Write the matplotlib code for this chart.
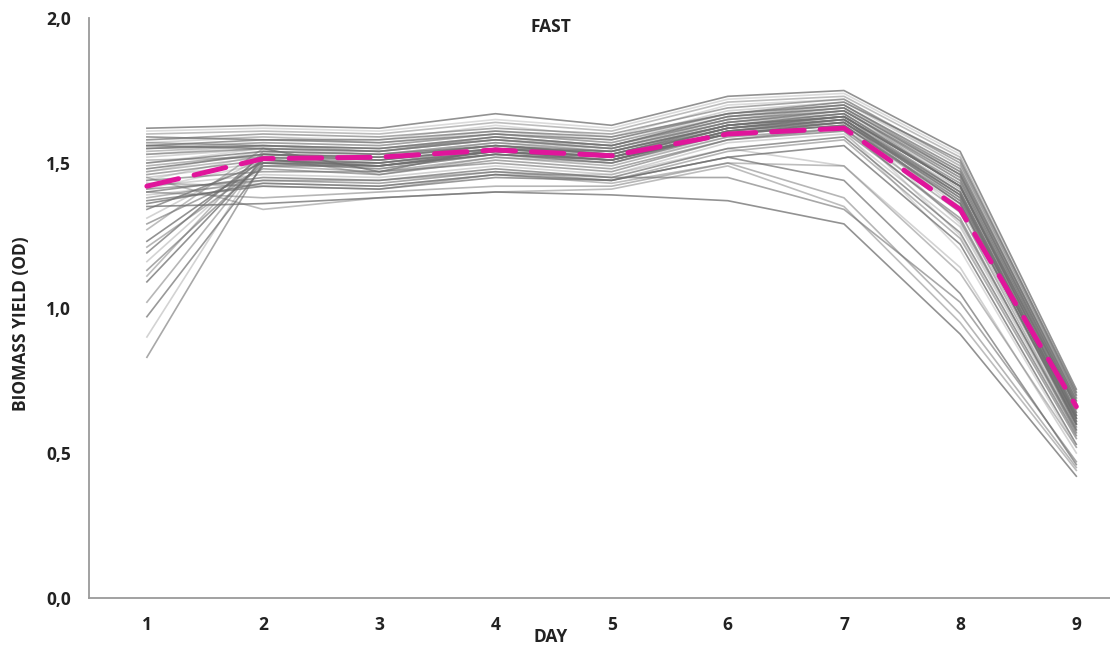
import matplotlib
matplotlib.use("Agg")
import matplotlib.pyplot as plt

days = [1, 2, 3, 4, 5, 6, 7, 8, 9]
day_labels = ["1", "2", "3", "4", "5", "6", "7", "8", "9"]
y_ticks = [0.0, 0.5, 1.0, 1.5, 2.0]
y_tick_labels = ["0,0", "0,5", "1,0", "1,5", "2,0"]

mean_yield = [1.42, 1.515, 1.52, 1.545, 1.525, 1.60, 1.62, 1.34, 0.66]

# individual replicate curves (biomass OD per day)
main_bundle = [
    [1.62, 1.63, 1.62, 1.67, 1.63, 1.73, 1.75, 1.54, 0.72],
    [1.60, 1.61, 1.60, 1.64, 1.61, 1.71, 1.73, 1.52, 0.70],
    [1.58, 1.60, 1.59, 1.62, 1.60, 1.69, 1.72, 1.50, 0.70],
    [1.57, 1.59, 1.57, 1.61, 1.58, 1.68, 1.71, 1.49, 0.69],
    [1.56, 1.58, 1.57, 1.60, 1.58, 1.67, 1.70, 1.48, 0.68],
    [1.55, 1.57, 1.56, 1.60, 1.57, 1.66, 1.70, 1.47, 0.68],
    [1.55, 1.56, 1.55, 1.59, 1.56, 1.66, 1.69, 1.46, 0.67],
    [1.54, 1.56, 1.55, 1.58, 1.56, 1.65, 1.68, 1.45, 0.66],
    [1.53, 1.55, 1.54, 1.58, 1.55, 1.64, 1.68, 1.44, 0.66],
    [1.52, 1.55, 1.53, 1.57, 1.55, 1.64, 1.67, 1.43, 0.65],
    [1.50, 1.54, 1.53, 1.56, 1.54, 1.63, 1.66, 1.42, 0.64],
    [1.49, 1.53, 1.52, 1.56, 1.53, 1.62, 1.66, 1.40, 0.63],
    [1.48, 1.53, 1.51, 1.55, 1.52, 1.62, 1.65, 1.39, 0.62],
    [1.47, 1.52, 1.50, 1.54, 1.52, 1.61, 1.65, 1.38, 0.61],
    [1.46, 1.51, 1.49, 1.53, 1.51, 1.60, 1.64, 1.36, 0.60],
    [1.45, 1.50, 1.48, 1.53, 1.50, 1.60, 1.63, 1.35, 0.59],
    [1.59, 1.58, 1.58, 1.61, 1.59, 1.67, 1.71, 1.51, 0.71],
    [1.57, 1.56, 1.54, 1.59, 1.56, 1.65, 1.69, 1.47, 0.69],
    [1.56, 1.55, 1.47, 1.55, 1.54, 1.63, 1.67, 1.42, 0.66],
    [1.51, 1.52, 1.46, 1.52, 1.50, 1.61, 1.65, 1.37, 0.62],
]
light_bundle = [
    [1.61, 1.62, 1.61, 1.65, 1.62, 1.72, 1.74, 1.53, 0.71],
    [1.58, 1.59, 1.58, 1.63, 1.59, 1.70, 1.72, 1.49, 0.69],
    [1.56, 1.57, 1.56, 1.60, 1.57, 1.67, 1.70, 1.46, 0.67],
    [1.53, 1.56, 1.55, 1.59, 1.56, 1.66, 1.69, 1.41, 0.64],
    [1.50, 1.55, 1.54, 1.58, 1.55, 1.64, 1.67, 1.33, 0.61],
    [1.47, 1.54, 1.52, 1.57, 1.54, 1.63, 1.66, 1.29, 0.58],
    [1.44, 1.53, 1.51, 1.56, 1.53, 1.62, 1.64, 1.25, 0.55],
    [1.41, 1.50, 1.49, 1.53, 1.50, 1.59, 1.61, 1.20, 0.52],
]
lower_group = [
    [1.44, 1.47, 1.47, 1.50, 1.47, 1.58, 1.62, 1.30, 0.58],
    [1.42, 1.46, 1.45, 1.49, 1.46, 1.57, 1.60, 1.28, 0.57],
    [1.40, 1.45, 1.44, 1.48, 1.45, 1.55, 1.59, 1.26, 0.56],
    [1.38, 1.44, 1.44, 1.47, 1.44, 1.54, 1.58, 1.24, 0.55],
    [1.36, 1.43, 1.42, 1.46, 1.44, 1.52, 1.56, 1.22, 0.53],
    [1.43, 1.42, 1.41, 1.46, 1.43, 1.50, 1.49, 1.12, 0.52],
]
early_decline = [
    [1.41, 1.44, 1.43, 1.47, 1.45, 1.45, 1.34, 1.02, 0.47],
    [1.39, 1.43, 1.42, 1.46, 1.46, 1.55, 1.49, 1.14, 0.50],
    [1.37, 1.42, 1.41, 1.45, 1.44, 1.52, 1.44, 1.05, 0.46],
    [1.40, 1.38, 1.40, 1.42, 1.42, 1.50, 1.38, 0.98, 0.45],
    [1.35, 1.36, 1.38, 1.40, 1.39, 1.37, 1.29, 0.91, 0.42],
    [1.45, 1.34, 1.38, 1.40, 1.41, 1.49, 1.35, 0.95, 0.44],
]
low_start = [
    [0.83, 1.50, 1.50, 1.55, 1.52, 1.62, 1.66, 1.42, 0.63],
    [0.90, 1.53, 1.52, 1.56, 1.53, 1.63, 1.67, 1.44, 0.64],
    [0.97, 1.49, 1.49, 1.54, 1.51, 1.61, 1.65, 1.40, 0.62],
    [1.02, 1.52, 1.51, 1.55, 1.53, 1.62, 1.66, 1.43, 0.65],
    [1.09, 1.51, 1.50, 1.54, 1.52, 1.60, 1.64, 1.39, 0.60],
    [1.11, 1.54, 1.53, 1.57, 1.54, 1.64, 1.68, 1.45, 0.66],
    [1.13, 1.50, 1.48, 1.53, 1.50, 1.60, 1.63, 1.37, 0.59],
    [1.16, 1.52, 1.50, 1.54, 1.51, 1.61, 1.64, 1.40, 0.61],
    [1.19, 1.53, 1.52, 1.56, 1.53, 1.63, 1.66, 1.42, 0.63],
    [1.21, 1.49, 1.47, 1.52, 1.49, 1.59, 1.62, 1.33, 0.58],
    [1.23, 1.51, 1.49, 1.53, 1.51, 1.60, 1.63, 1.36, 0.60],
    [1.27, 1.55, 1.54, 1.58, 1.55, 1.65, 1.68, 1.46, 0.67],
    [1.29, 1.48, 1.46, 1.51, 1.48, 1.58, 1.61, 1.31, 0.57],
    [1.31, 1.52, 1.51, 1.55, 1.52, 1.62, 1.65, 1.41, 0.62],
    [1.34, 1.50, 1.49, 1.54, 1.51, 1.61, 1.64, 1.38, 0.61],
]

FONT = ["Open Sans", "DejaVu Sans"]

fig = plt.figure(figsize=(11.10, 6.48), dpi=100)
ax = fig.add_axes([0.080, 0.0772, 0.92, 0.8950])

alphas = [0.75, 0.45, 0.6, 0.3, 0.7, 0.5]
k = 0
for g in [main_bundle, lower_group, early_decline, low_start]:
    for series in g:
        ax.plot(days, series, color="#6e6e6e", lw=1.2,
                alpha=alphas[k % len(alphas)], zorder=2)
        k += 1
for series in light_bundle:
    ax.plot(days, series, color="#9a9a9a", lw=1.2, alpha=0.35, zorder=1)

ax.plot(days, mean_yield, color="#E0159B", lw=3.6, dashes=(6.5, 3.2),
        dash_capstyle="round", zorder=5)

ax.set_xlim(0.5, 9.29)
ax.set_ylim(0, 2.0)
ax.set_xticks(days)
ax.set_xticklabels(day_labels)
ax.set_yticks(y_ticks)
ax.set_yticklabels(y_tick_labels)
ax.tick_params(axis="both", length=0, labelsize=12.5)
ax.tick_params(axis="y", pad=13)
ax.tick_params(axis="x", pad=13)
for lab in ax.get_xticklabels() + ax.get_yticklabels():
    lab.set_fontweight("bold")
    lab.set_family(FONT)
    lab.set_color("#222222")

for s in ["top", "right"]:
    ax.spines[s].set_visible(False)
for s in ["left", "bottom"]:
    ax.spines[s].set_color("#9a9a9a")
    ax.spines[s].set_linewidth(1.3)

fig.text(0.0185, 0.5, "BIOMASS YIELD (OD)", rotation=90, va="center", ha="center",
         fontsize=12.5, fontweight="bold", family=FONT, color="#222222")
fig.text(0.496, 0.017, "DAY", ha="center", va="center",
         fontsize=12.5, fontweight="bold", family=FONT, color="#222222")
fig.text(0.496, 0.958, "FAST", ha="center", va="center",
         fontsize=12.5, fontweight="bold", family=FONT, color="#222222")

fig.savefig("out.png", dpi=100, facecolor="white")
